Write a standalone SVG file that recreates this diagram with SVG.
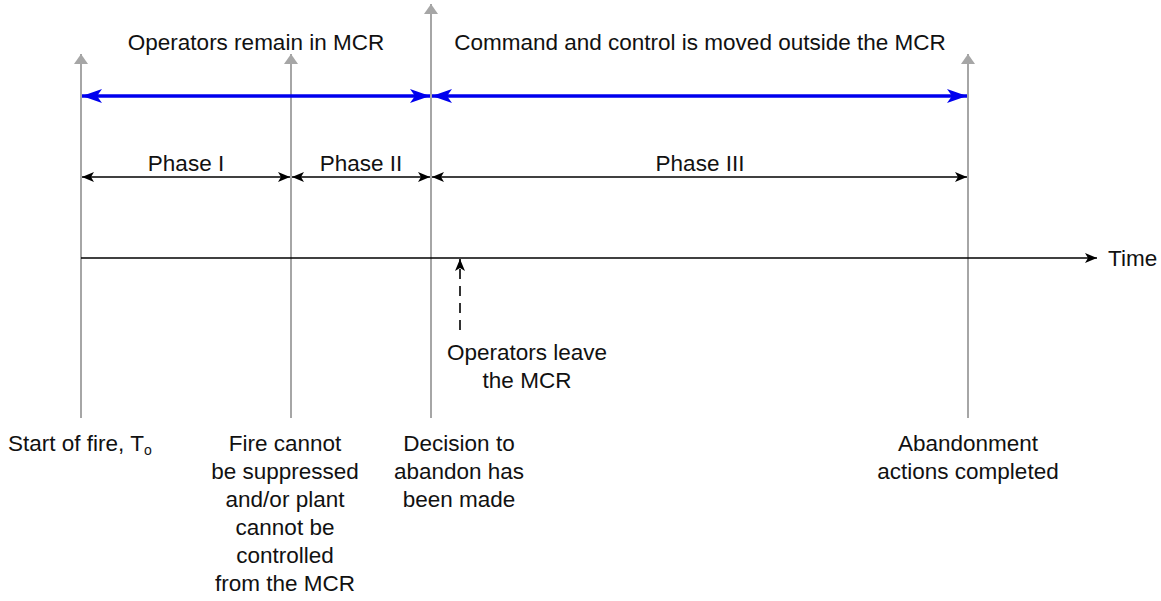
<svg xmlns="http://www.w3.org/2000/svg" width="1161" height="601" viewBox="0 0 1161 601">
<style>
text{font-family:"Liberation Sans",Arial,sans-serif;font-size:22.5px;fill:#111}
.c{text-anchor:middle}
.g{stroke:#a6a6a6;stroke-width:2;fill:none}
.b{stroke:#0000ee;stroke-width:3.5;fill:none}
.k{stroke:#000;stroke-width:1.6;fill:none}
</style>
<defs>
<marker id="ga" viewBox="0 0 10 14" refX="10" refY="7" markerWidth="10" markerHeight="14" markerUnits="userSpaceOnUse" orient="auto"><path d="M0,0L10,7L0,14z" fill="#a6a6a6"/></marker>
<marker id="ba" viewBox="0 0 20 14" refX="20" refY="7" markerWidth="20" markerHeight="14" markerUnits="userSpaceOnUse" orient="auto-start-reverse"><path d="M0,0L20,7L0,14L5,7z" fill="#0000ee"/></marker>
<marker id="ka" viewBox="0 0 12 10" refX="12" refY="5" markerWidth="12" markerHeight="10" markerUnits="userSpaceOnUse" orient="auto-start-reverse"><path d="M0,0L12,5L0,10L3,5z" fill="#000"/></marker>
</defs>
<rect width="1161" height="601" fill="#fff"/>
<g id="connectors">
<line class="g" x1="81" y1="418" x2="81" y2="54" marker-end="url(#ga)"/>
<line class="g" x1="291" y1="418" x2="291" y2="54" marker-end="url(#ga)"/>
<line class="g" x1="431" y1="418" x2="431" y2="4" marker-end="url(#ga)"/>
<line class="g" x1="968" y1="418" x2="968" y2="54" marker-end="url(#ga)"/>
<line class="b" x1="82" y1="96" x2="430" y2="96" marker-start="url(#ba)" marker-end="url(#ba)"/>
<line class="b" x1="432" y1="96" x2="967" y2="96" marker-start="url(#ba)" marker-end="url(#ba)"/>
<line class="k" x1="82" y1="177" x2="290" y2="177" marker-start="url(#ka)" marker-end="url(#ka)"/>
<line class="k" x1="292" y1="177" x2="430" y2="177" marker-start="url(#ka)" marker-end="url(#ka)"/>
<line class="k" x1="432" y1="177" x2="967" y2="177" marker-start="url(#ka)" marker-end="url(#ka)"/>
<line class="k" x1="81" y1="258" x2="1097" y2="258" marker-end="url(#ka)"/>
<line class="k" x1="460" y1="330" x2="460" y2="259" stroke-dasharray="10,7" marker-end="url(#ka)"/>
</g>
<g id="top-labels">
<text class="c" x="256" y="50">Operators remain in MCR</text>
<text class="c" x="700" y="50">Command and control is moved outside the MCR</text>
</g>
<g id="phases">
<text class="c" x="186" y="171">Phase I</text>
<text class="c" x="361" y="171">Phase II</text>
<text class="c" x="700" y="171">Phase III</text>
</g>
<g id="time"><text x="1108" y="266">Time</text></g>
<g id="leave"><text class="c" x="527" y="360">Operators leave</text><text class="c" x="527" y="388">the MCR</text></g>
<g id="start"><text x="8" y="451">Start of fire, T<tspan font-size="14" dy="4">o</tspan></text></g>
<g id="fire"><text class="c" x="285" y="451">Fire cannot</text><text class="c" x="285" y="479">be suppressed</text><text class="c" x="285" y="507">and/or plant</text><text class="c" x="285" y="535">cannot be</text><text class="c" x="285" y="563">controlled</text><text class="c" x="285" y="591">from the MCR</text></g>
<g id="decision"><text class="c" x="459" y="451">Decision to</text><text class="c" x="459" y="479">abandon has</text><text class="c" x="459" y="507">been made</text></g>
<g id="abandon"><text class="c" x="968" y="451">Abandonment</text><text class="c" x="968" y="479">actions completed</text></g>
</svg>
